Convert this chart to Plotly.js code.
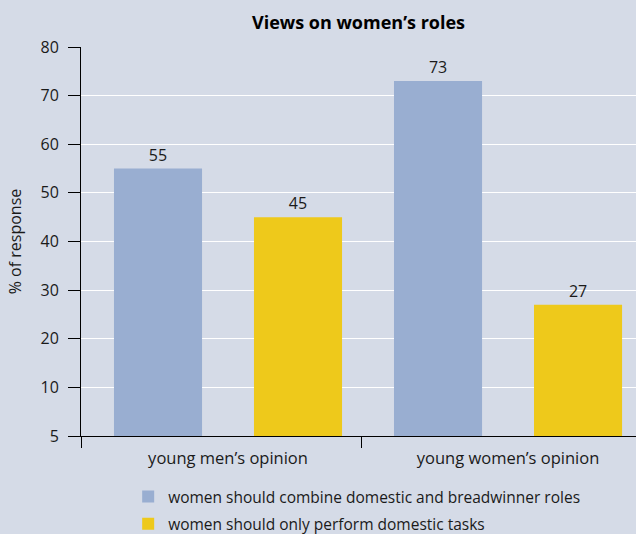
<!DOCTYPE html>
<html>
<head>
<meta charset="utf-8">
<script src="https://cdn.plot.ly/plotly-3.0.1.min.js"></script>
<style>html,body{margin:0;padding:0;background:#d5dbe7;}#chart{width:636px;height:534px;}</style>
</head>
<body>
<div id="chart"></div>
<script>
const categories = ["young men’s opinion", "young women’s opinion"];
const seriesNames = ["women should combine domestic and breadwinner roles", "women should only perform domestic tasks"];
const combineValues = [55, 73];
const domesticValues = [45, 27];
const yTickVals = [0, 10, 20, 30, 40, 50, 60, 70, 80];
const yTickText = ["5", "10", "20", "30", "40", "50", "60", "70", "80"];

const FONT = "Open Sans, Noto Sans, sans-serif";
const catPos = categories.map((c, i) => i);
const xRange = [-0.525, 1.457];
const boundaryTicks = [-0.5245, 0.475];

const traces = [
  {type: "bar", x: catPos, y: combineValues, name: seriesNames[0], legendgroup: "a",
   marker: {color: "#99aed1"}, text: combineValues.map(String), textposition: "outside",
   textfont: {size: 16, color: "#1a1a1a"}, cliponaxis: false, hoverinfo: "none"},
  {type: "bar", x: catPos, y: domesticValues, name: seriesNames[1], legendgroup: "b",
   marker: {color: "#eec91b"}, text: domesticValues.map(String), textposition: "outside",
   textfont: {size: 16, color: "#1a1a1a"}, cliponaxis: false, hoverinfo: "none"}
];

const layout = {
  width: 636, height: 534,
  paper_bgcolor: "#d5dbe7", plot_bgcolor: "#d5dbe7",
  font: {family: FONT, size: 16, color: "#1a1a1a"},
  margin: {l: 81, r: 0, t: 47, b: 98, autoexpand: false},
  barmode: "group", bargap: 0, bargroupgap: 0.371,
  title: {text: "<b>Views on women’s roles</b>", font: {size: 18, color: "#000"},
          x: 0.5, xref: "paper", xanchor: "center", y: 0.958, yref: "container", yanchor: "middle"},
  xaxis: {type: "linear", range: xRange, autorange: false, showline: true, linecolor: "#000", linewidth: 1,
          tickvals: catPos, ticktext: categories, ticks: "", showgrid: false, zeroline: false,
          tickfont: {size: 16.5}, ticklabelstandoff: 7,
          minor: {tickvals: boundaryTicks, ticks: "outside", ticklen: 11, tickcolor: "#000", tickwidth: 1, showgrid: false}},
  yaxis: {range: [0, 80], autorange: false, tickvals: yTickVals, ticktext: yTickText,
          ticks: "outside", ticklen: 12, tickcolor: "#000", tickwidth: 1, ticklabelstandoff: 6,
          showline: true, linecolor: "#000", linewidth: 1,
          showgrid: true, gridcolor: "#ffffff", gridwidth: 1, zeroline: false,
          tickfont: {size: 16},
          title: {text: "% of response", font: {size: 16}, standoff: 14}},
  showlegend: true,
  legend: {x: 0.085, xanchor: "left", y: -0.113, yanchor: "top", orientation: "v",
           bgcolor: "rgba(0,0,0,0)", font: {size: 15.5}, traceorder: "grouped", tracegroupgap: 4}
};

Plotly.newPlot("chart", traces, layout, {displayModeBar: false, staticPlot: true});
</script>
</body>
</html>
